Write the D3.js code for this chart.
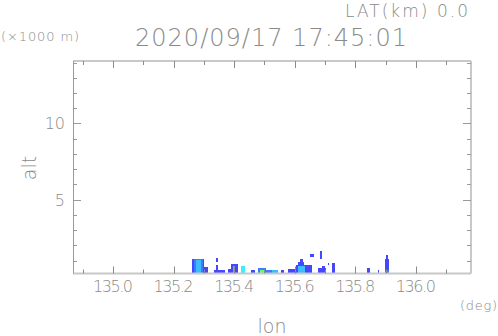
<!DOCTYPE html>
<html>
<head>
<meta charset="utf-8">
<script src="https://cdn.jsdelivr.net/npm/d3@7"></script>
<style>
  body { margin: 0; background: #fff; }
  text { font-family: "DejaVu Sans", sans-serif; font-weight: 200; fill: #8a8a8a; }
</style>
</head>
<body>
<script>
var W = 498, H = 336;

// axis extents and ticks
var lonExtent = [134.868, 136.182];
var altExtent = [0.15, 14.1];
var lonTicks = [135.0, 135.2, 135.4, 135.6, 135.8, 136.0];
var lonMinor = d3.range(134.9, 136.15, 0.1);
var altTicks = [5, 10];
var altMinor = d3.range(1, 15, 1);

// echo cells: lon0, lon1, alt top, alt bottom (null = ground), level
var echoLon0 = [135.261, 135.267, 135.274, 135.300, 135.340, 135.340, 135.333, 135.380, 135.389, 135.396, 135.422, 135.455,
  135.479, 135.485, 135.505, 135.525, 135.554, 135.578, 135.604, 135.611, 135.617, 135.611, 135.640, 135.650, 135.683,
  135.677, 135.690, 135.709, 135.723, 135.838, 135.875, 135.898, 135.901, 135.898];
var echoLon1 = [135.300, 135.297, 135.290, 135.314, 135.347, 135.347, 135.370, 135.389, 135.413, 135.403, 135.436, 135.469,
  135.505, 135.498, 135.525, 135.545, 135.564, 135.607, 135.640, 135.630, 135.627, 135.634, 135.657, 135.663, 135.690,
  135.703, 135.700, 135.713, 135.733, 135.848, 135.879, 135.911, 135.908, 135.911];
var echoTop = [1.10, 1.10, 1.03, 0.57, 1.16, 0.70, 0.38, 0.44, 0.77, 0.64, 0.64, 0.38,
  0.51, 0.40, 0.38, 0.35, 0.38, 0.44, 0.70, 0.90, 1.10, 0.64, 0.70, 1.40, 1.62,
  0.51, 0.64, 0.84, 0.84, 0.51, 0.38, 1.10, 1.36, 0.38];
var echoBottom = [null, null, null, null, 0.90, null, null, null, null, null, null, null,
  null, null, null, null, null, null, null, null, null, null, null, 1.23, 1.10,
  null, null, 0.70, null, null, null, null, null, null];
var echoLevel = [0, 1, 2, 0, 0, 0, 0, 0, 0, 2, 3, 0,
  1, 4, 1, 2, 0, 0, 0, 0, 0, 2, 0, 0, 0,
  0, 0, 0, 0, 0, 0, 0, 0, 1];
var levelColors = ['#4646ff', '#3c7cff', '#3cbcff', '#3ceeff', '#6cff5c'];

var x = d3.scaleLinear().domain(lonExtent).range([73, 471]);
var y = d3.scaleLinear().domain(altExtent).range([273.5, 61]);

var svg = d3.select('body')
  .append('svg')
  .attr('width', W)
  .attr('height', H);

// echoes
var cells = echoLon0.map(function(d, i) {
  return { lon0: d, lon1: echoLon1[i], top: echoTop[i],
    bottom: echoBottom[i] === null ? altExtent[0] : echoBottom[i], level: echoLevel[i] };
});
svg.selectAll('rect.echo')
  .data(cells)
  .enter().append('rect')
  .attr('class', 'echo')
  .attr('x', function(d) { return x(d.lon0); })
  .attr('width', function(d) { return x(d.lon1) - x(d.lon0); })
  .attr('y', function(d) { return y(d.top); })
  .attr('height', function(d) { return y(d.bottom) - y(d.top); })
  .attr('fill', function(d) { return levelColors[d.level]; })
  .attr('shape-rendering', 'crispEdges');

// frame
var x0 = x(lonExtent[0]), x1 = x(lonExtent[1]), y0 = y(altExtent[0]), y1 = y(altExtent[1]);
svg.append('line').attr('x1', x0).attr('x2', x1).attr('y1', y1).attr('y2', y1)
  .attr('stroke', '#c8c8c8').attr('stroke-width', 2);
svg.append('line').attr('x1', x0).attr('x2', x1).attr('y1', y0).attr('y2', y0)
  .attr('stroke', '#c8c8c8').attr('stroke-width', 2);
svg.append('line').attr('x1', x1).attr('x2', x1).attr('y1', y1).attr('y2', y0)
  .attr('stroke', '#c8c8c8').attr('stroke-width', 2);
svg.append('line').attr('x1', x0 + 0.5).attr('x2', x0 + 0.5).attr('y1', y1).attr('y2', y0)
  .attr('stroke', '#9a9a9a').attr('stroke-width', 1);

// ticks on all sides
function isMajorLon(d) { return lonTicks.some(function(t) { return Math.abs(t - d) < 1e-6; }); }
function isMajorAlt(d) { return altTicks.indexOf(d) >= 0; }
[y0, y1].forEach(function(edge, k) {
  svg.selectAll('line.xt' + k)
    .data(lonMinor)
    .enter().append('line')
    .attr('class', 'xt' + k)
    .attr('x1', function(d) { return Math.round(x(d)) + 0.5; })
    .attr('x2', function(d) { return Math.round(x(d)) + 0.5; })
    .attr('y1', edge)
    .attr('y2', function(d) { var len = isMajorLon(d) ? 7 : 4; return k === 0 ? edge - len : edge + len; })
    .attr('stroke', '#8a8a8a');
});
[x0, x1].forEach(function(edge, k) {
  svg.selectAll('line.yt' + k)
    .data(altMinor)
    .enter().append('line')
    .attr('class', 'yt' + k)
    .attr('y1', function(d) { return Math.round(y(d)) + 0.5; })
    .attr('y2', function(d) { return Math.round(y(d)) + 0.5; })
    .attr('x1', edge)
    .attr('x2', function(d) { var len = isMajorAlt(d) ? 8 : 4; return k === 0 ? edge + len : edge - len; })
    .attr('stroke', '#9a9a9a');
});

// tick labels
svg.selectAll('text.xl')
  .data(lonTicks)
  .enter().append('text')
  .attr('class', 'xl')
  .attr('x', function(d) { return x(d); })
  .attr('y', 292)
  .attr('text-anchor', 'middle')
  .attr('font-size', 16)
  .attr('textLength', 40)
  .text(function(d) { return d.toFixed(1); });

svg.selectAll('text.yl')
  .data(altTicks)
  .enter().append('text')
  .attr('class', 'yl')
  .attr('x', 65)
  .attr('y', function(d) { return y(d) + 6; })
  .attr('text-anchor', 'end')
  .attr('font-size', 16)
  .text(function(d) { return d; });

// titles
svg.append('text').attr('x', 345).attr('y', 17).attr('font-size', 17)
  .attr('textLength', 123).text('LAT(km) 0.0');
svg.append('text').attr('x', 1).attr('y', 41).attr('font-size', 13)
  .attr('textLength', 78).text('(\u00d71000 m)');
svg.append('text').attr('x', 135).attr('y', 46).attr('font-size', 24)
  .attr('textLength', 272).text('2020/09/17 17:45:01');
svg.append('text').attr('x', 460).attr('y', 310).attr('font-size', 13)
  .attr('textLength', 37).text('(deg)');
svg.append('text').attr('x', 272).attr('y', 333).attr('font-size', 19)
  .attr('text-anchor', 'middle').text('lon');
svg.append('text').attr('transform', 'translate(36,168) rotate(-90)')
  .attr('font-size', 19).attr('text-anchor', 'middle').text('alt');
</script>
</body>
</html>
